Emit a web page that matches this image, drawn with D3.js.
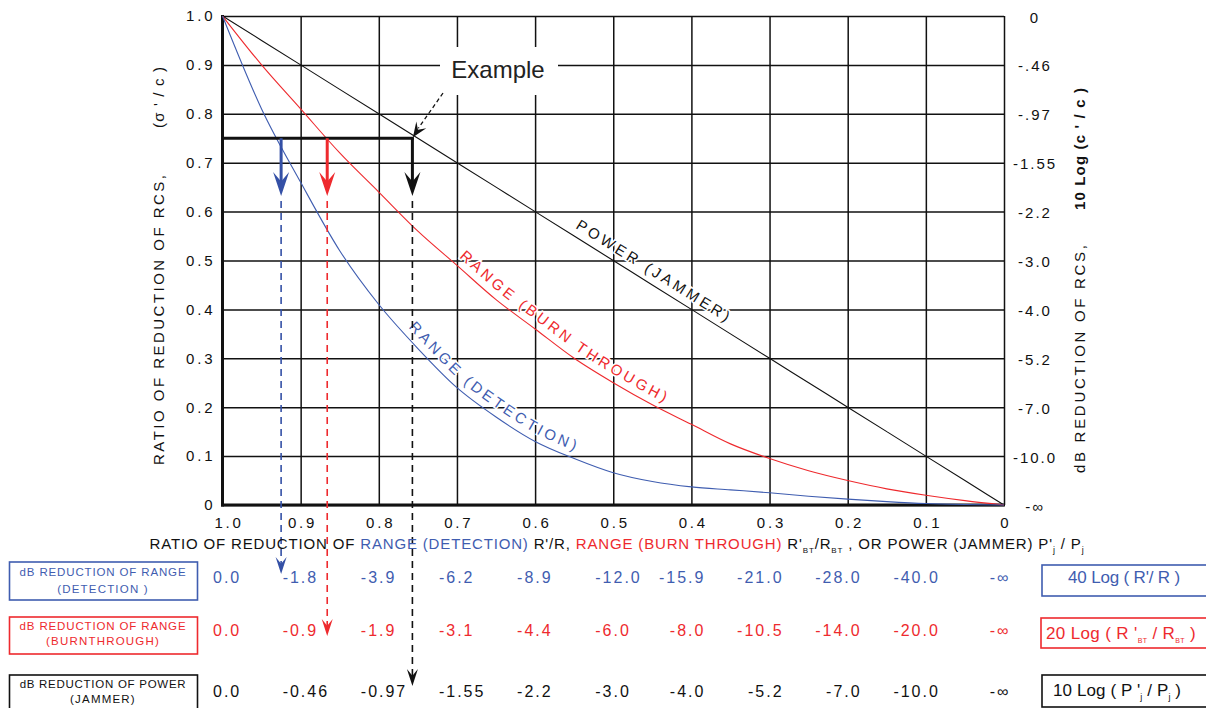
<!DOCTYPE html>
<html><head><meta charset="utf-8">
<script src="https://cdn.jsdelivr.net/npm/d3@7"></script>
<style>
body{margin:0;background:#fff;}
svg{display:block;font-family:"Liberation Sans",Arial,Helvetica,sans-serif;}
</style></head><body>
<svg id="c" width="1206" height="708"></svg>
<script>
// ---------- data ----------
const xTicks = [1.0,0.9,0.8,0.7,0.6,0.5,0.4,0.3,0.2,0.1,0];
const xTickLabels = ["1.0","0.9","0.8","0.7","0.6","0.5","0.4","0.3","0.2","0.1","0"];
const yTicks = [0,0.1,0.2,0.3,0.4,0.5,0.6,0.7,0.8,0.9,1.0];
const yTickLabels = ["0","0.1","0.2","0.3","0.4","0.5","0.6","0.7","0.8","0.9","1.0"];
const rightTickLabels = ["-\u221E","-10.0","-7.0","-5.2","-4.0","-3.0","-2.2","-1.55","-.97","-.46","0"];

const ratioX      = [1.0,0.95,0.9,0.85,0.8,0.75,0.7,0.65,0.6,0.55,0.5,0.45,0.4,0.35,0.3,0.25,0.2,0.15,0.1,0.05,0];
const detection   = [1.0,0.81,0.66,0.52,0.41,0.32,0.24,0.18,0.13,0.095,0.066,0.048,0.037,0.031,0.025,0.018,0.012,0.007,0.003,0.001,0];
const burnThrough = [1.0,0.90,0.81,0.72,0.64,0.56,0.49,0.42,0.36,0.30,0.25,0.205,0.165,0.125,0.095,0.07,0.05,0.033,0.02,0.009,0];
const power       = [1.0,0.95,0.9,0.85,0.8,0.75,0.7,0.65,0.6,0.55,0.5,0.45,0.4,0.35,0.3,0.25,0.2,0.15,0.1,0.05,0];

const dbDetection = ["0.0","-1.8","-3.9","-6.2","-8.9","-12.0","-15.9","-21.0","-28.0","-40.0","-\u221E"];
const dbBurn      = ["0.0","-0.9","-1.9","-3.1","-4.4","-6.0","-8.0","-10.5","-14.0","-20.0","-\u221E"];
const dbPower     = ["0.0","-0.46","-0.97","-1.55","-2.2","-3.0","-4.0","-5.2","-7.0","-10.0","-\u221E"];

const exampleRCS = 0.75;
const exampleRange = {detection:0.925, burn:0.866, power:0.757};

// ---------- style ----------
const BLUE = "#3f5db0", BLUE_D = "#3450a6", RED = "#ee2a2e", BLACK = "#111";

const svg = d3.select("#c");
const defs = svg.append("defs");
const x = d3.scaleLinear().domain([1,0]).range([222.5,1004]);
const y = d3.scaleLinear().domain([0,1]).range([505,16]);

function fit(sel, target){
  sel.attr("letter-spacing",0);
  const n = sel.text().length;
  const w = sel.node().getComputedTextLength();
  sel.attr("letter-spacing", (target - w)/Math.max(1,n-1));
  return sel;
}

// ---------- grid ----------
const gridX = svg.append("g").attr("transform",`translate(0,${y(0)})`)
  .call(d3.axisBottom(x).tickValues(xTicks).tickSize(-(y(0)-y(1))).tickFormat(""));
gridX.select(".domain").remove();
gridX.selectAll("line").attr("stroke",BLACK).attr("stroke-width",1.5);

const gridY = svg.append("g").attr("transform",`translate(${x(1)},0)`)
  .call(d3.axisLeft(y).tickValues(yTicks).tickSize(-(x(0)-x(1))).tickFormat(""));
gridY.select(".domain").remove();
gridY.selectAll("line").attr("stroke",BLACK).attr("stroke-width",1.5);

// thick left and bottom axes
svg.append("line").attr("x1",x(1)).attr("x2",x(1)).attr("y1",y(1)-1).attr("y2",y(0)+1.5).attr("stroke",BLACK).attr("stroke-width",3);
svg.append("line").attr("x1",x(1)-1.5).attr("x2",x(0)+1).attr("y1",y(0)).attr("y2",y(0)).attr("stroke",BLACK).attr("stroke-width",3);

// white gap for "Example"
svg.append("rect").attr("x",440).attr("y",47).attr("width",118).attr("height",48).attr("fill","#fff");
svg.append("text").attr("x",498).attr("y",78).attr("text-anchor","middle")
  .attr("font-size",24).attr("fill","#222").text("Example");

// ---------- tick labels ----------
const axB = svg.append("g").attr("transform",`translate(0,${y(0)})`)
  .call(d3.axisBottom(x).tickValues(xTicks).tickSize(0).tickPadding(12).tickFormat((d,i)=>xTickLabels[i]));
axB.select(".domain").remove();
axB.selectAll("text").attr("font-size",15).attr("fill","#111").attr("font-family","Liberation Sans, Arial")
  .attr("letter-spacing",2.8).attr("dx",(d,i)=> i===0 ? 6 : 1.4);

const axL = svg.append("g").attr("transform",`translate(${x(1)},0)`)
  .call(d3.axisLeft(y).tickValues(yTicks).tickSize(0).tickPadding(10).tickFormat((d,i)=>yTickLabels[i]));
axL.select(".domain").remove();
axL.selectAll("text").attr("font-size",15).attr("fill","#111").attr("font-family","Liberation Sans, Arial")
  .attr("letter-spacing",2.8).attr("dx",2.8);

const axR = svg.append("g").attr("transform",`translate(${x(0)},0)`)
  .call(d3.axisRight(y).tickValues(yTicks).tickSize(0).tickPadding(30).tickFormat((d,i)=>rightTickLabels[i]));
axR.select(".domain").remove();
axR.selectAll("text").attr("font-size",15).attr("fill","#111").attr("font-family","Liberation Sans, Arial")
  .attr("text-anchor","middle").attr("letter-spacing",2).attr("dx",1).attr("dy","0.4em");

// ---------- curves ----------
const line = d3.line().x(d=>x(d[0])).y(d=>y(d[1])).curve(d3.curveMonotoneX);
const series = [
  {key:"pw", vals:power, color:BLACK, label:"POWER (JAMMER)", startX:570, len:178},
  {key:"bt", vals:burnThrough, color:RED, label:"RANGE (BURN THROUGH)", startX:452, len:252},
  {key:"dt", vals:detection, color:BLUE, label:"RANGE (DETECTION)", startX:402, len:209}
];
series.forEach(s=>{
  s.node = svg.append("path").datum(ratioX.map((r,i)=>[r,s.vals[i]]))
    .attr("d",line).attr("fill","none").attr("stroke",s.color).attr("stroke-width",1.1).node();
});

// curve labels following each curve, slightly above it
series.forEach(s=>{
  const node = s.node, L = node.getTotalLength(), pts=[];
  for(let t=0;t<=L;t+=3) pts.push(node.getPointAtLength(t));
  const off = 7.5, out=[];
  for(let i=1;i<pts.length-1;i++){
    const a=pts[i-1], b=pts[i+1];
    let dx=b.x-a.x, dy=b.y-a.y; const n=Math.hypot(dx,dy)||1; dx/=n; dy/=n;
    const p=pts[i]; if(p.x<s.startX) continue;
    out.push([p.x+off*dy, p.y-off*dx]);
  }
  defs.append("path").attr("id","lp-"+s.key).attr("d",d3.line().curve(d3.curveBasis)(out));
  const t = svg.append("text").attr("font-size",15).attr("fill",s.color)
    .attr("stroke","#fff").attr("stroke-width",3).attr("paint-order","stroke");
  t.append("textPath").attr("href","#lp-"+s.key).text(s.label);
  fit(t,s.len);
});

// ---------- example construction ----------
const yEx = y(exampleRCS);
svg.append("line").attr("x1",x(1)).attr("x2",x(exampleRange.power)+1.5).attr("y1",yEx).attr("y2",yEx)
  .attr("stroke",BLACK).attr("stroke-width",3);

function headPath(cx,tip,w,h){
  return `M${cx},${tip} L${cx-w/2},${tip-h} L${cx},${tip-h*0.6} L${cx+w/2},${tip-h} Z`;
}
const arrows = [
  {r:exampleRange.detection, c:BLUE_D, tip:574},
  {r:exampleRange.burn, c:RED, tip:636},
  {r:exampleRange.power, c:BLACK, tip:686}
];
arrows.forEach(a=>{
  const cx = x(a.r);
  svg.append("line").attr("x1",cx).attr("x2",cx).attr("y1",yEx).attr("y2",185).attr("stroke",a.c).attr("stroke-width",3);
  svg.append("path").attr("d",headPath(cx,196,16,24)).attr("fill",a.c);
  svg.append("line").attr("x1",cx).attr("x2",cx).attr("y1",201).attr("y2",a.tip-8)
    .attr("stroke",a.c).attr("stroke-width",1.6).attr("stroke-dasharray","7,5");
  svg.append("path").attr("d",headPath(cx,a.tip,11,17)).attr("fill",a.c);
});

// pointer from "Example"
const exX = x(exampleRange.power);
svg.append("line").attr("x1",443).attr("y1",93).attr("x2",exX+6).attr("y2",yEx-10)
  .attr("stroke",BLACK).attr("stroke-width",1.3).attr("stroke-dasharray","4,3");
(function(){
  const tx=exX+0.5, ty=yEx-1, ang=Math.atan2(yEx-93, exX-443);
  const L=15, W=6;
  const bx=tx-L*Math.cos(ang), by=ty-L*Math.sin(ang);
  const nx=-Math.sin(ang), ny=Math.cos(ang);
  const mx=tx-L*0.6*Math.cos(ang), my=ty-L*0.6*Math.sin(ang);
  svg.append("path").attr("d",`M${tx},${ty} L${bx+nx*W},${by+ny*W} L${mx},${my} L${bx-nx*W},${by-ny*W} Z`).attr("fill",BLACK);
})();

// ---------- axis titles ----------
const xt = svg.append("text").attr("x",149.5).attr("y",549).attr("font-size",15).attr("fill","#111");
const parts = [
  ["RATIO OF REDUCTION OF ","#111",0,15],
  ["RANGE (DETECTION)",BLUE,0,15],
  [" R'/R, ","#111",0,15],
  ["RANGE (BURN THROUGH)",RED,0,15],
  [" R'","#111",0,15],["BT","#111",4,8],["/R","#111",-4,15],["BT","#111",4,8],
  ["  , OR POWER (JAMMER) P'","#111",-4,15],["j","#111",4,9],[" / P","#111",-4,15],["j","#111",4,9]
];
parts.forEach(p=>xt.append("tspan").attr("fill",p[1]).attr("dy",p[2]).attr("font-size",p[3]).text(p[0]));
fit(xt,935);

function vtext(txt,bx,startY,len,opts={}){
  const t = svg.append("text").attr("transform",`translate(${bx},${startY}) rotate(-90)`)
    .attr("font-size",opts.size||15).attr("fill","#111").attr("font-weight",opts.bold?"bold":"normal").text(txt);
  fit(t,len);
}
vtext("RATIO OF REDUCTION OF RCS,",163.5,465,290);
vtext("(\u03C3 ' / c )",163.5,128,61);
vtext("dB REDUCTION OF RCS,",1085,473,228);
vtext("10 Log (c ' / c )",1085,210,122,{bold:true});

// ---------- table ----------
const rows = [
  {vals:dbDetection, color:BLUE, base:583, box:[9.5,562,188,38], l1:"dB REDUCTION OF RANGE", l2:"(DETECTION )", b1:576, b2:593,
   rbox:[1042,565,170,31]},
  {vals:dbBurn, color:RED, base:636, box:[9.5,617,188,37], l1:"dB REDUCTION OF RANGE", l2:"(BURNTHROUGH)", b1:630, b2:645,
   rbox:[1041,618,170,30]},
  {vals:dbPower, color:BLACK, base:697, box:[9.5,675,188,40], l1:"dB REDUCTION OF POWER", l2:"(JAMMER)", b1:688, b2:703,
   rbox:[1042,675,170,32]}
];
rows.forEach(r=>{
  r.vals.forEach((v,i)=>{
    const tx = xTicks[i];
    let px, anchor;
    if(i===0){px=213; anchor="start";}
    else if(i<=5){px=x(tx)-18; anchor="start";}
    else if(i<=9){px=x(tx)+14; anchor="end";}
    else {px=x(tx)-4; anchor="middle";}
    svg.append("text").attr("x",px).attr("y",r.base).attr("text-anchor",anchor)
      .attr("font-size",16).attr("letter-spacing",2).attr("fill",r.color).text(v);
  });
  svg.append("rect").attr("x",r.box[0]).attr("y",r.box[1]).attr("width",r.box[2]).attr("height",r.box[3])
    .attr("fill","none").attr("stroke",r.color).attr("stroke-width",1.6);
  const t1 = svg.append("text").attr("x",103).attr("y",r.b1).attr("text-anchor","middle").attr("font-size",11.5).attr("fill",r.color).text(r.l1);
  fit(t1,166);
  svg.append("text").attr("x",103).attr("y",r.b2).attr("text-anchor","middle").attr("font-size",11.5)
    .attr("fill",r.color).attr("letter-spacing",1.2).text(r.l2);
  svg.append("rect").attr("x",r.rbox[0]).attr("y",r.rbox[1]).attr("width",r.rbox[2]).attr("height",r.rbox[3])
    .attr("fill","#fff").attr("stroke",r.color).attr("stroke-width",1.6);
});

// right formula texts
const f1 = svg.append("text").attr("x",1124).attr("y",583).attr("text-anchor","middle").attr("font-size",17).attr("fill",BLUE).text("40 Log ( R'/ R )");
fit(f1,112);
const f2 = svg.append("text").attr("x",1046).attr("y",639).attr("font-size",17).attr("fill",RED);
[["20 Log ( R '",0,17],["BT",4,7],["  / R",-4,17],["BT",4,7],[" )",-4,17]].forEach(p=>f2.append("tspan").attr("dy",p[1]).attr("font-size",p[2]).text(p[0]));
fit(f2,150);
const f3 = svg.append("text").attr("x",1053).attr("y",696).attr("font-size",17).attr("fill",BLACK);
[["10 Log ( P '",0,17],["j",4,9],[" / P",-4,17],["j",4,9],[" )",-4,17]].forEach(p=>f3.append("tspan").attr("dy",p[1]).attr("font-size",p[2]).text(p[0]));
fit(f3,128);
</script>
</body></html>
